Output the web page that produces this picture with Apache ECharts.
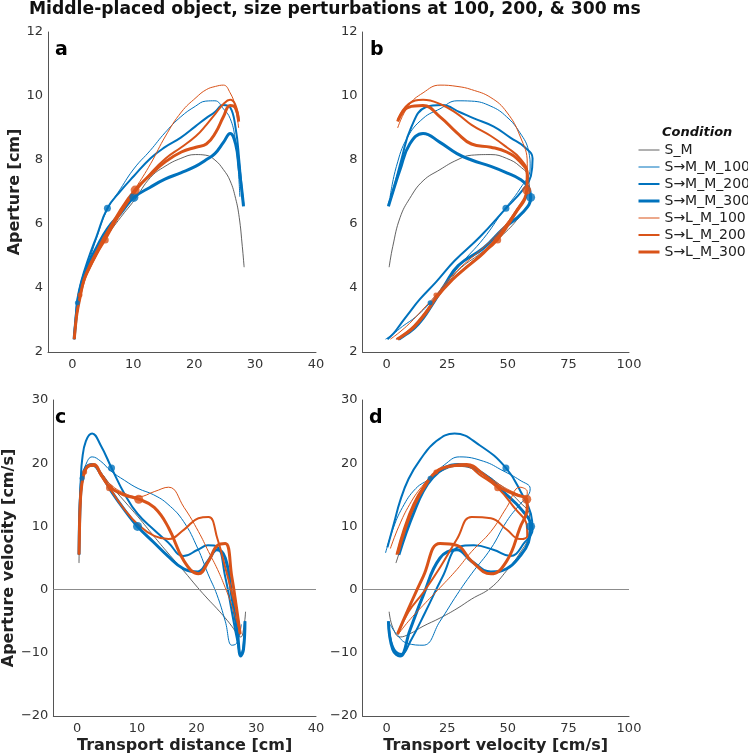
<!DOCTYPE html>
<html><head><meta charset="utf-8">
<script src="https://cdn.jsdelivr.net/npm/echarts@6/dist/echarts.min.js"></script>
<style>html,body{margin:0;padding:0;background:#fff}#c{width:748px;height:755px}</style>
</head><body><div id="c"></div>
<script>
// ---- sample times (ms) shared by all conditions; perturbation dots sit at 100/200/300 ms
const sampleTimes = [0,25,50,75,100,125,150,175,200,250,300,350,400,450,500,550,600,650,700,750,800,850,900];
const conditionNames = ['S_M','S→M_M_100','S→M_M_200','S→M_M_300','S→L_M_100','S→L_M_200','S→L_M_300'];
const perturbTimes = [null,100,200,300,100,200,300];

// S_M
const SM_dist = [0.3,0.35,0.45,0.6,0.85,1.45,2.5,3.95,5.6,7.9,10.2,12.8,15.2,17.8,20.2,21.9,23.4,24.8,25.9,26.8,27.4,27.9,28.2];
const SM_vel  = [3.8,6.5,9.5,13.5,18,24,29.5,39,47,54.5,59,58.5,55,49.5,43,35,29,22,15,9.5,5.5,2.5,1];
const SM_ap   = [2.4,2.5,2.65,3.0,3.45,4.0,4.55,5.1,5.6,6.2,6.75,7.45,7.8,8.05,8.17,8.15,8.0,7.7,7.35,6.8,6.2,5.3,4.65];
const SM_apv  = [4.2,7.5,11.5,15,17.5,19,19.5,18.5,16.5,14,11.5,8.5,5.8,3,0.3,-1.5,-3,-4.5,-5.8,-7,-7.5,-6,-3.5];
// S->M_M_100
const M100_dist = [0.3,0.35,0.45,0.6,0.82,1.45,2.5,3.95,5.6,7.9,10.2,12.8,15.2,17.8,20.2,21.9,23.4,24.8,25.9,26.7,27.2,27.5];
const M100_vel  = [-0.5,2.5,6.5,12,17.9,24,30,40,48,55,59.2,58.5,55,49.5,43,35,29,22,15,8.5,4,1.4];
const M100_ap   = [2.4,2.55,2.8,3.1,3.54,4.1,4.7,5.55,6.4,7.1,7.75,8.3,8.85,9.35,9.68,9.84,9.85,9.6,9.3,8.7,7.8,6.85];
const M100_apv  = [5.8,9.5,13,16,17.6,19.8,21,20.3,18.8,17.3,16,15,13.5,10.8,6.5,2.5,-0.8,-5,-8.8,-8.5,-7,-5.5];
// S->M_M_200
const M200_dist = [0.3,0.35,0.45,0.6,0.82,1.45,2.5,3.95,5.75,8.0,10.1,12.8,15.2,17.8,20.2,21.9,23.4,24.8,25.9,26.8,27.4,27.85,28.1];
const M200_vel  = [0.3,3,5.5,9,13.7,20.5,28,38.5,49.2,56,59.5,60.2,57,51,44,36,30,23,16,10,6,2.5,0.7];
const M200_ap   = [2.4,2.6,2.85,3.2,3.65,4.2,4.85,5.6,6.49,7.05,7.5,8.05,8.4,8.7,9.05,9.3,9.5,9.72,9.65,9.0,8.0,7.0,6.6];
const M200_apv  = [6.7,10.5,14,17.5,20.5,23.5,24.7,22.8,19.25,15,12,9.5,7.5,5.3,6.3,7.0,6.8,2,-3.5,-8,-10.2,-9,-5];
// S->M_M_300
const M300_dist = [0.3,0.35,0.45,0.6,0.82,1.45,2.5,3.95,5.75,8.0,10.1,12.8,15.2,17.8,20.2,21.9,23.4,24.8,25.9,26.8,27.4,27.85,28.1];
const M300_vel  = [5,8,11.5,15,18.5,24,29.5,40,48,56,59.4,58.5,55,49.5,43,35,29,22,15,9.5,5.5,2.5,0.7];
const M300_ap   = [2.4,2.55,2.75,3.05,3.45,4.1,4.7,5.25,5.85,6.35,6.83,7.15,7.4,7.6,7.8,8.0,8.2,8.55,8.83,8.5,7.7,7.0,6.55];
const M300_apv  = [5.5,9,12.5,15.5,17.5,19.3,19.8,18.3,15.5,12.5,10,7.5,5.3,3.3,2.8,4.5,6.3,5,-1,-6.5,-10.5,-9.5,-5];
// S->L_M_100
const L100_dist = [0.3,0.38,0.5,0.75,1.25,1.9,2.8,4.0,5.4,7.8,10.3,12.9,15.3,17.9,20.3,22.0,23.5,24.8,25.9,26.7,27.3];
const L100_vel  = [1.5,5,9.5,14.5,20.3,26,32,39,45.8,53,57.8,58,55,49.5,43,35,29,22,15,9,4.5];
const L100_ap   = [2.4,2.6,2.9,3.3,3.78,4.3,4.75,5.2,5.7,6.4,7.1,7.9,8.75,9.5,9.95,10.2,10.3,10.34,10.1,9.7,9.0];
const L100_apv  = [6.5,10,13.5,16.3,18.6,19.5,19.8,18.5,16.8,15.3,14.7,15.5,16.2,13,9.2,6,3.2,0.3,-2.5,-5,-7.2];
// S->L_M_200
const L200_dist = [0.3,0.38,0.5,0.75,1.25,1.9,2.8,4.0,5.4,7.8,10.3,12.9,15.3,17.9,20.3,22.0,23.5,24.8,25.9,26.7,27.3];
const L200_vel  = [4,7,11,15.5,20.3,26,32,39,45.8,53,57.8,58,55,49.5,43,35,29,22,15,9,4.5];
const L200_ap   = [2.4,2.55,2.8,3.2,3.7,4.2,4.6,5.05,5.5,6.3,7.0,7.6,8.05,8.4,8.75,9.1,9.45,9.75,9.88,9.75,9.25];
const L200_apv  = [5.5,9.5,13.5,16.5,18.5,19.5,19.6,18,16.1,12.8,10.2,8.5,8.0,9.5,11.3,11.5,8,3.5,-0.5,-3.5,-7];
// S->L_M_300
const L300_dist = [0.3,0.38,0.5,0.75,1.25,1.9,2.8,4.0,5.4,7.8,10.3,12.9,15.3,17.9,20.3,22.0,23.5,24.8,25.9,26.7,27.3];
const L300_vel  = [4.5,7.5,11.5,16,20.5,27,33,40,46,53.5,57.8,58,55,49.5,43,35,29,22,15,9,4.5];
const L300_ap   = [2.4,2.55,2.8,3.2,3.7,4.25,4.65,5.1,5.6,6.4,7.06,7.55,7.95,8.25,8.4,8.5,8.85,9.35,9.7,9.65,9.2];
const L300_apv  = [5.6,9.5,13.5,16.5,18.7,19.6,19.8,18.2,16.3,15.0,14.3,13,9.8,4.5,2.5,4.5,7,7.3,2,-3,-7];

const xTicksDist = [0,10,20,30,40];
const xTicksVel = [0,25,50,75,100];

const FONT = 'DejaVu Sans';
const BLUE = '#0072BD', ORANGE = '#D95319', DARK = '#3a3a3a';
const condData = [
  {dist:SM_dist, vel:SM_vel, ap:SM_ap, apv:SM_apv},
  {dist:M100_dist, vel:M100_vel, ap:M100_ap, apv:M100_apv},
  {dist:M200_dist, vel:M200_vel, ap:M200_ap, apv:M200_apv},
  {dist:M300_dist, vel:M300_vel, ap:M300_ap, apv:M300_apv},
  {dist:L100_dist, vel:L100_vel, ap:L100_ap, apv:L100_apv},
  {dist:L200_dist, vel:L200_vel, ap:L200_ap, apv:L200_apv},
  {dist:L300_dist, vel:L300_vel, ap:L300_ap, apv:L300_apv}
];
const condStyle = [
  {color:DARK, width:0.8, dot:0},
  {color:BLUE, width:1, dot:5},
  {color:BLUE, width:2, dot:7},
  {color:BLUE, width:3, dot:9},
  {color:ORANGE, width:1, dot:5},
  {color:ORANGE, width:2, dot:7},
  {color:ORANGE, width:3, dot:9}
];
const panels = [
  {x:'dist', y:'ap'}, {x:'vel', y:'ap'}, {x:'dist', y:'apv'}, {x:'vel', y:'apv'}
];

const series = [];
panels.forEach((p, pi) => {
  conditionNames.forEach((name, ci) => {
    const d = condData[ci], st = condStyle[ci];
    const pts = d[p.x].map((xv, k) => [xv, d[p.y][k]]);
    const s = {
      type:'line', name:name, xAxisIndex:pi, yAxisIndex:pi, data:pts,
      smooth:0.45, symbol:'none', color:st.color,
      lineStyle:{color:st.color, width:st.width}, silent:true, z:2+ci
    };
    if (ci === 0 && pi >= 2) {
      s.markLine = {silent:true, symbol:'none', label:{show:false},
        lineStyle:{color:'#8c8c8c', width:1, type:'solid'}, data:[{yAxis:0}]};
    }
    series.push(s);
    if (perturbTimes[ci] !== null) {
      const k = sampleTimes.indexOf(perturbTimes[ci]);
      series.push({type:'scatter', name:name + ' (perturbation)', xAxisIndex:pi, yAxisIndex:pi,
        data:[pts[k]], symbol:'circle', symbolSize:st.dot, itemStyle:{color:st.color}, z:10+ci, silent:true});
    }
  });
});

const minusFmt = v => String(v).replace('-', '\u2212');
const axisCommon = {
  type:'value', splitLine:{show:false}, axisTick:{show:false},
  axisLine:{show:true, onZero:false, lineStyle:{color:'#555', width:1}},
  axisLabel:{fontFamily:FONT, fontSize:13, color:'#333', margin:5, formatter:minusFmt}
};
function xAx(gi, min, max, ticks, name) {
  return Object.assign({}, axisCommon, {gridIndex:gi, min:min, max:max,
    axisLabel:Object.assign({}, axisCommon.axisLabel, {customValues:ticks, margin:6}),
    name:name||'', nameLocation:'middle', nameGap:22,
    nameTextStyle:{fontFamily:FONT, fontSize:16, fontWeight:'bold', color:'#222'}});
}
function yAx(gi, min, max, interval, name) {
  return Object.assign({}, axisCommon, {gridIndex:gi, min:min, max:max, interval:interval,
    name:name||'', nameLocation:'middle', nameGap:21,
    nameTextStyle:{fontFamily:FONT, fontSize:16, fontWeight:'bold', color:'#222'}});
}

const panelLetter = (t, l, tp) => ({text:t, left:l, top:tp, padding:0, textStyle:{fontFamily:FONT, fontSize:19, fontWeight:'bold', color:'#000'}});

const option = {
  animation:false,
  backgroundColor:'#fff',
  title:[
    {text:'Middle-placed object, size perturbations at 100, 200, & 300 ms', left:29, top:1, padding:0,
     textStyle:{fontFamily:FONT, fontSize:17.2, fontWeight:'bold', color:'#111'}},
    panelLetter('a', 55, 41), panelLetter('b', 370, 41), panelLetter('c', 55, 409), panelLetter('d', 369, 409),
    {text:'Condition', left:662, top:126, padding:0, textStyle:{fontFamily:FONT, fontSize:13, fontWeight:'bold', fontStyle:'italic', color:'#111'}}
  ],
  legend:{
    data:conditionNames.map((n, i) => ({name:n, lineStyle:{width:condStyle[i].width, color:condStyle[i].color}, itemStyle:{opacity:0}})),
    orient:'vertical', left:637, top:143, padding:0,
    itemWidth:21, itemHeight:14, itemGap:3, selectedMode:false,
    itemStyle:{opacity:0},
    textStyle:{fontFamily:FONT, fontSize:14, color:'#222'}
  },
  grid:[
    {left:48, top:32, width:268, height:320},
    {left:362.5, top:32, width:266.5, height:320},
    {left:48, top:400, width:268, height:316},
    {left:362.5, top:400, width:266.5, height:316}
  ],
  xAxis:[
    xAx(0, -4, 40, xTicksDist),
    xAx(1, -10, 100, xTicksVel),
    xAx(2, -4, 40, xTicksDist, 'Transport distance [cm]'),
    xAx(3, -10, 100, xTicksVel, 'Transport velocity [cm/s]')
  ],
  yAxis:[
    yAx(0, 2, 12, 2, 'Aperture [cm]'),
    yAx(1, 2, 12, 2),
    yAx(2, -20, 30, 10, 'Aperture velocity [cm/s]'),
    yAx(3, -20, 30, 10)
  ],
  series:series
};
const chart = echarts.init(document.getElementById('c'));
chart.setOption(option);
</script>
</body></html>
